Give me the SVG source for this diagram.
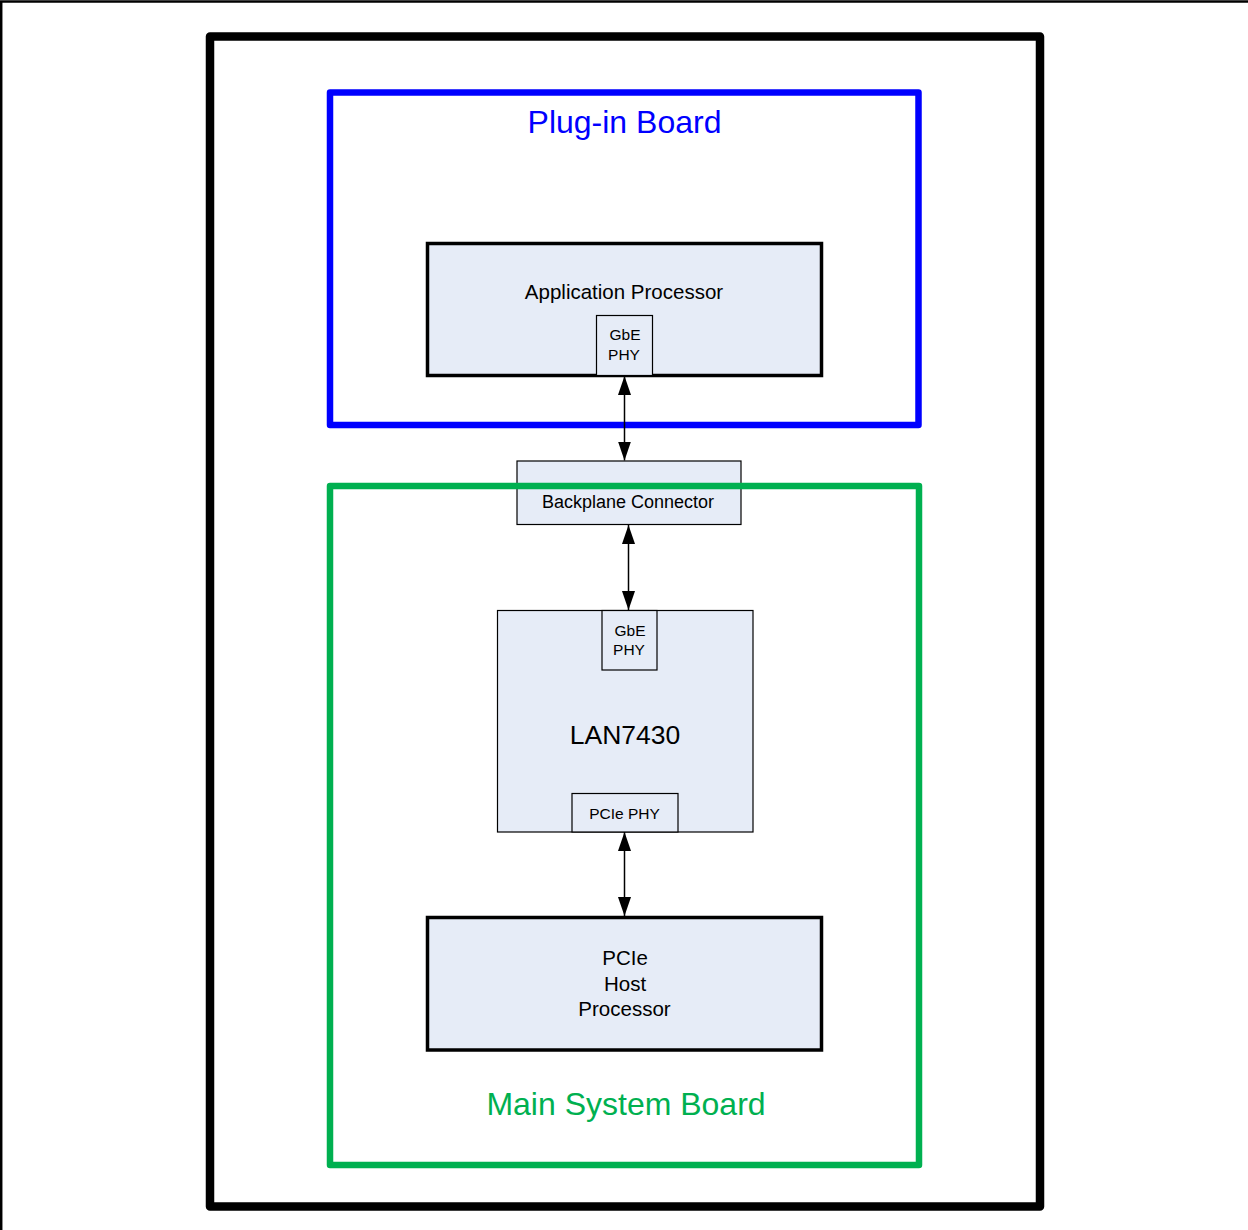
<svg xmlns="http://www.w3.org/2000/svg" width="1248" height="1230" viewBox="0 0 1248 1230">
<style>
text{font-family:"Liberation Sans",Arial,sans-serif;fill:#000;text-anchor:middle}
.chip{fill:#E6ECF7;stroke:#000;stroke-width:3.5}
.blk{fill:#E6ECF7;stroke:#000;stroke-width:1.2}
.board{fill:none;stroke-width:6.5;stroke-linejoin:round}
.conn{stroke:#000;stroke-width:1.5;fill:none;marker-start:url(#ah);marker-end:url(#ah)}
</style>
<defs>
<marker id="ah" markerUnits="userSpaceOnUse" markerWidth="20" markerHeight="14" refX="19" refY="6.5" orient="auto-start-reverse">
<path d="M0,0 L19,6.5 L0,13 z" fill="#000"/>
</marker>
</defs>
<rect width="1248" height="1230" fill="#fff"/>
<path d="M1.2,1230 V1.5 H1248" fill="none" stroke="#000" stroke-width="2.5"/>
<g id="enclosure">
<rect x="210" y="36.5" width="830" height="1170" fill="none" stroke="#000" stroke-width="8.5" stroke-linejoin="round"/>
</g>
<g id="plugin-board">
<rect class="board" x="330" y="92.5" width="588.5" height="332.5" stroke="#0000FF"/>
<text x="624.5" y="133" font-size="32" style="fill:#0000FF">Plug-in Board</text>
</g>
<g id="backplane-connector">
<rect class="blk" x="517" y="461" width="224" height="63.5"/>
<text x="628" y="508" font-size="18">Backplane Connector</text>
</g>
<g id="main-system-board">
<rect class="board" x="330" y="486" width="589" height="679" stroke="#00B050"/>
<text x="626" y="1115" font-size="32" style="fill:#00B050">Main System Board</text>
</g>
<g id="application-processor">
<rect class="chip" x="427.5" y="243.5" width="394" height="132"/>
<text x="624" y="298.5" font-size="20.5">Application Processor</text>
<g id="ap-gbe-phy">
<rect class="blk" x="596.5" y="315.5" width="56" height="60"/>
<text x="625" y="340" font-size="15.5">GbE</text>
<text x="624" y="360" font-size="15.5">PHY</text>
</g>
</g>
<g id="lan7430">
<rect class="blk" x="497.5" y="610.5" width="255.5" height="221.5"/>
<text x="625" y="744" font-size="26.5">LAN7430</text>
<g id="lan-gbe-phy">
<rect class="blk" x="602" y="610.5" width="55" height="59.5"/>
<text x="630" y="635.5" font-size="15.5">GbE</text>
<text x="629" y="655" font-size="15.5">PHY</text>
</g>
<g id="lan-pcie-phy">
<rect class="blk" x="572" y="793.5" width="106" height="38.5"/>
<text x="624.5" y="819" font-size="15.5">PCIe PHY</text>
</g>
</g>
<g id="pcie-host-processor">
<rect class="chip" x="427.5" y="917.5" width="394" height="132.5"/>
<text x="625" y="965" font-size="20.5">PCIe</text>
<text x="625" y="990.5" font-size="20.5">Host</text>
<text x="624.5" y="1016" font-size="20.5">Processor</text>
</g>
<g id="connectors">
<line class="conn" x1="624.5" y1="376" x2="624.5" y2="460.5"/>
<line class="conn" x1="628.5" y1="525" x2="628.5" y2="610"/>
<line class="conn" x1="624.5" y1="832" x2="624.5" y2="916"/>
</g>
</svg>
